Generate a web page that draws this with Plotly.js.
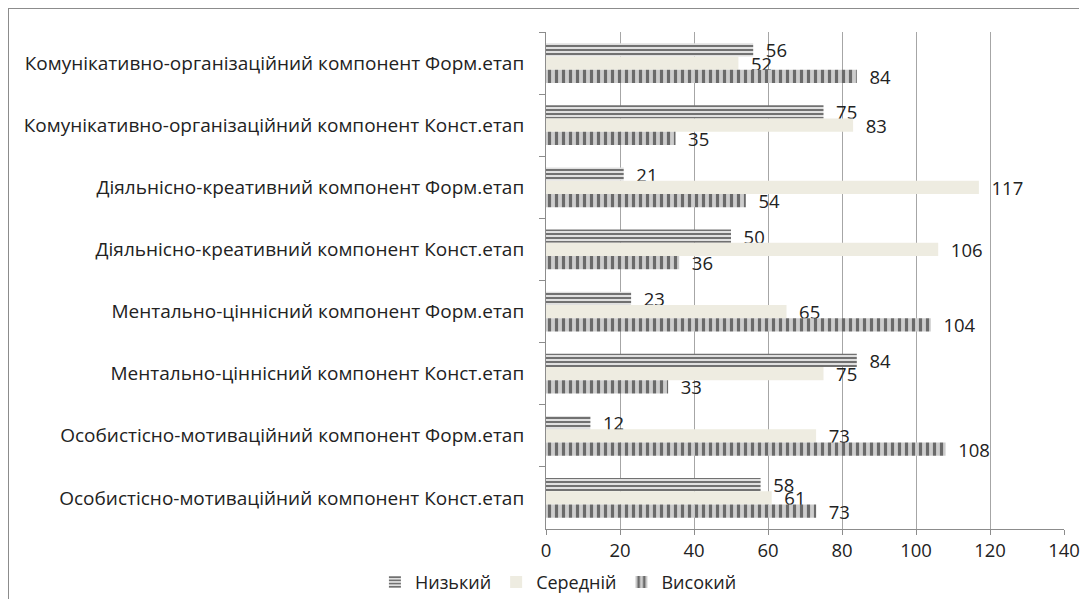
<!DOCTYPE html>
<html>
<head>
<meta charset="utf-8">
<script src="https://cdn.plot.ly/plotly-3.0.1.min.js"></script>
<style>
html,body{margin:0;padding:0;background:#fff;}
#chart{position:absolute;left:8px;top:8px;width:1071px;height:591px;border:1px solid #8c8c8c;box-sizing:border-box;}
</style>
</head>
<body>
<div id="chart"></div>
<script>
const categories = [
  "Комунікативно-організаційний компонент Форм.етап",
  "Комунікативно-організаційний компонент Конст.етап",
  "Діяльнісно-креативний компонент Форм.етап",
  "Діяльнісно-креативний компонент Конст.етап",
  "Ментально-ціннісний компонент Форм.етап",
  "Ментально-ціннісний компонент Конст.етап",
  "Особистісно-мотиваційний компонент Форм.етап",
  "Особистісно-мотиваційний компонент Конст.етап"
];
const seriesNames = ["Низький", "Середній", "Високий"];
const low = [56, 75, 21, 50, 23, 84, 12, 58];
const mid = [52, 83, 117, 106, 65, 75, 73, 61];
const high = [84, 35, 54, 36, 104, 33, 108, 73];
const xTicks = [0, 20, 40, 60, 80, 100, 120, 140];

const font = "'Open Sans', sans-serif";
const textStyle = {family: font, size: 18.5, color: "#222"};

function bar(name, vals, marker) {
  return {
    type: "bar", orientation: "h", name: name,
    x: vals, y: categories,
    marker: marker,
    text: vals.map(v => "  " + v),
    textposition: "outside",
    textfont: textStyle,
    constraintext: "none",
    cliponaxis: false,
    hoverinfo: "x+name"
  };
}

const data = [
  bar(seriesNames[0], low, {color: "#e0e0e0", line: {width: 0},
      pattern: {shape: "-", fgcolor: "#555555", bgcolor: "#e0e0e0", size: 4, solidity: 0.4}}),
  bar(seriesNames[1], mid, {color: "#eeece1", line: {width: 0}}),
  bar(seriesNames[2], high, {color: "#bdbdbd", line: {width: 0},
      pattern: {shape: "|", fgcolor: "#6a6a6a", bgcolor: "#cdcdcd", size: 7, solidity: 0.45}})
];

const layout = {
  width: 1071, height: 591,
  margin: {l: 537, r: 16, t: 23, b: 71, autoexpand: false},
  paper_bgcolor: "#fff", plot_bgcolor: "#fff",
  barmode: "group", bargap: 0.36, bargroupgap: 0,
  font: {family: font, size: 18, color: "#222"},
  xaxis: {
    range: [0, 140], tickvals: xTicks, ticktext: xTicks.map(String),
    showgrid: true, gridcolor: "#a6a6a6", gridwidth: 1,
    zeroline: false, showline: true, linecolor: "#8c8c8c",
    ticks: "outside", ticklen: 5, tickcolor: "#8c8c8c",
    tickfont: {family: font, size: 18.5, color: "#222"}, fixedrange: true,
    automargin: false
  },
  yaxis: {
    autorange: "reversed", type: "category",
    showline: true, linecolor: "#8c8c8c",
    ticks: "outside", ticklen: 6, tickcolor: "#8c8c8c", tickson: "boundaries",
    showgrid: false, ticklabelstandoff: 17,
    tickfont: {family: font, size: 19, color: "#222"}, fixedrange: true,
    automargin: false
  },
  legend: {orientation: "h", xref: "container", x: 0.513, xanchor: "center",
           yref: "container", y: 0.03, yanchor: "middle",
           font: {family: font, size: 18, color: "#222"}, itemwidth: 30, tracegroupgap: 10},
  showlegend: true
};

Plotly.newPlot("chart", data, layout, {displayModeBar: false, staticPlot: true});
</script>
</body>
</html>
